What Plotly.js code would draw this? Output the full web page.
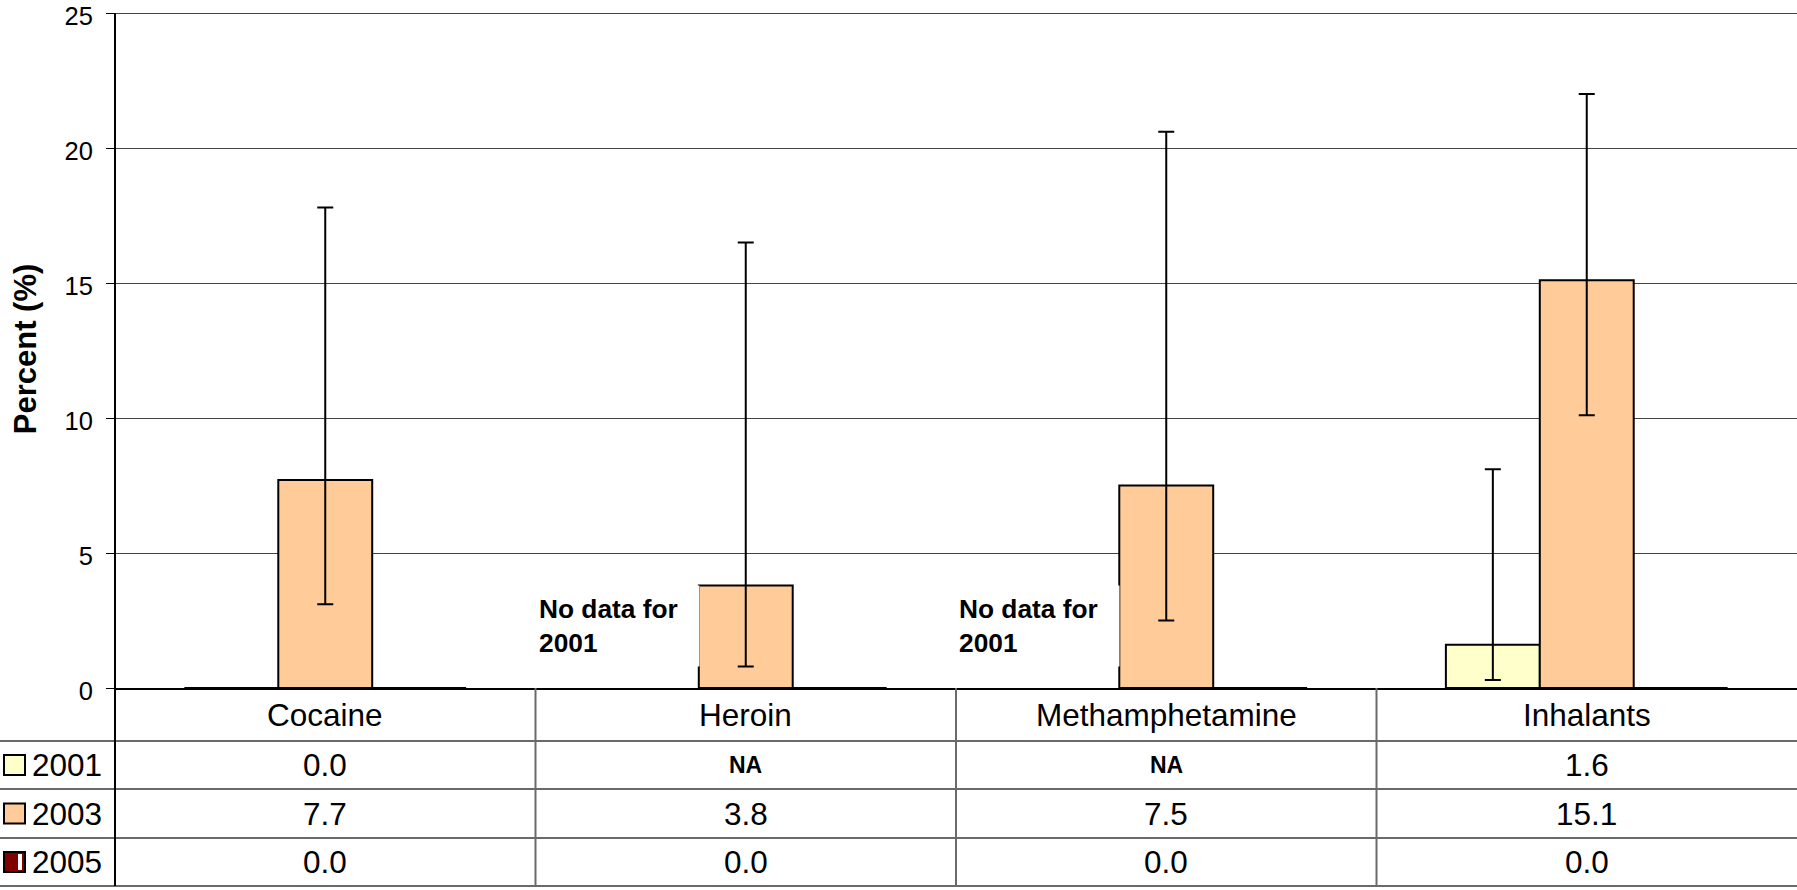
<!DOCTYPE html>
<html>
<head>
<meta charset="utf-8">
<script src="https://cdn.plot.ly/plotly-3.0.1.min.js"></script>
<style>html,body{margin:0;padding:0;background:#fff;}#chart{width:1797px;height:890px;}</style>
</head>
<body>
<div id="chart"></div>
<script>
// ---- data ----
const categories = ['Cocaine', 'Heroin', 'Methamphetamine', 'Inhalants'];
const seriesNames = ['2001', '2003', '2005'];
const values2001 = [0.0, null, null, 1.6];
const values2003 = [7.7, 3.8, 7.5, 15.1];
const values2005 = [0.0, 0.0, 0.0, 0.0];
const ciLow2001  = [0.0, null, null, 0.3];
const ciHigh2001 = [0.0, null, null, 8.1];
const ciLow2003  = [3.1, 0.8, 2.5, 10.1];
const ciHigh2003 = [17.8, 16.5, 20.6, 22.0];
const ciLow2005  = [0.0, 0.0, 0.0, 0.0];
const ciHigh2005 = [0.0, 0.0, 0.0, 0.0];
const noDataNote = 'No data for<br>2001';
const noDataCategories = ['Heroin', 'Methamphetamine'];
const yTicks = [0, 5, 10, 15, 20, 25];

// ---- styling ----
const colors = ['#FFFFCC', '#FFCC99', '#800000'];
const FONT = 'Liberation Sans, Arial, Helvetica, sans-serif';
const W = 1797, H = 890;
const M = {l: 115, r: 0, t: 10, b: 202};
const plotW = W - M.l - M.r, plotH = H - M.t - M.b;
const zeroPx = H - M.b;
const pxPerUnit = 27;
const yMax = plotH / pxPerUnit;
const px2x = px => (px - M.l) / plotW;
const py2y = py => (zeroPx - py) / plotH;
const TABLE_FONT = 31.5;

const allValues = [values2001, values2003, values2005];
const allLow = [ciLow2001, ciLow2003, ciLow2005];
const allHigh = [ciHigh2001, ciHigh2003, ciHigh2005];

const traces = seriesNames.map((name, i) => {
  const v = allValues[i];
  return {
    type: 'bar',
    name: name,
    x: categories,
    y: v,
    marker: {color: colors[i], line: {color: '#000', width: 2}},
    error_y: {
      type: 'data',
      symmetric: false,
      array: v.map((val, j) => val === null ? 0 : allHigh[i][j] - val),
      arrayminus: v.map((val, j) => val === null ? 0 : val - allLow[i][j]),
      color: '#000',
      thickness: 2,
      width: 8
    },
    showlegend: false,
    hoverinfo: 'x+y'
  };
});

const shapes = [];
const annotations = [];
const lineColor = '#6a6a6a';

// table row boundaries (pixel rows)
const rowTops = [688, 741, 789, 838, 886];
for (let r = 1; r < rowTops.length; r++) {
  shapes.push({type: 'line', xref: 'paper', yref: 'paper',
    x0: px2x(0), x1: 1, y0: py2y(rowTops[r]), y1: py2y(rowTops[r]),
    line: {color: lineColor, width: 2}});
}
// vertical separators between categories
for (let c = 1; c < categories.length; c++) {
  const xp = c / categories.length;
  shapes.push({type: 'line', xref: 'paper', yref: 'paper',
    x0: xp, x1: xp, y0: 0, y1: py2y(886),
    line: {color: lineColor, width: 2}});
}
// left border: axis line from the 25 gridline down through the table
shapes.push({type: 'line', xref: 'paper', yref: 'paper',
  x0: 0, x1: 0, y0: py2y(886), y1: py2y(13), line: {color: '#000', width: 2}});

// category labels row
categories.forEach(c => {
  annotations.push({xref: 'x', yref: 'paper', x: c, y: 0, yshift: -(714.5 - zeroPx),
    text: c, showarrow: false, xanchor: 'center', yanchor: 'middle',
    font: {family: FONT, size: TABLE_FONT, color: '#000'}});
});

// value rows
seriesNames.forEach((name, i) => {
  const rowCenter = (rowTops[i + 1] + rowTops[i + 2]) / 2;
  const keyTop = rowCenter - 10, keyBot = rowCenter + 10;
  shapes.push({type: 'rect', xref: 'paper', yref: 'paper',
    x0: px2x(4), x1: px2x(25), y0: py2y(keyBot), y1: py2y(keyTop),
    fillcolor: colors[i], line: {color: '#000', width: 2}});
  if (i === 2) {
    shapes.push({type: 'rect', xref: 'paper', yref: 'paper',
      x0: px2x(18), x1: px2x(22), y0: py2y(keyBot - 2), y1: py2y(keyTop + 2),
      fillcolor: '#fff', line: {width: 0}});
  }
  annotations.push({xref: 'paper', yref: 'paper', x: px2x(30), y: 0, yshift: -(rowCenter - zeroPx),
    text: name, showarrow: false, xanchor: 'left', yanchor: 'middle',
    font: {family: FONT, size: TABLE_FONT, color: '#000'}});
  allValues[i].forEach((v, j) => {
    const isNA = v === null;
    annotations.push({xref: 'x', yref: 'paper', x: categories[j], y: 0, yshift: -(rowCenter - zeroPx),
      text: isNA ? '<b>NA</b>' : v.toFixed(1), showarrow: false, xanchor: 'center', yanchor: 'middle',
      font: {family: FONT, size: isNA ? 23 : TABLE_FONT, color: '#000'}});
  });
});

// "No data" notes
noDataCategories.forEach(c => {
  annotations.push({xref: 'x', yref: 'paper', x: c, y: py2y(626), xanchor: 'right', yanchor: 'middle',
    xshift: -46, text: '<b>' + noDataNote + '</b>', showarrow: false, align: 'left',
    width: 160, height: 80, bgcolor: '#fff', borderpad: 0,
    font: {family: FONT, size: 26.3, color: '#000'}});
});

const layout = {
  width: W, height: H,
  margin: M,
  paper_bgcolor: '#fff', plot_bgcolor: '#fff',
  barmode: 'group', bargap: 0.33, bargroupgap: 0,
  font: {family: FONT, color: '#000'},
  xaxis: {type: 'category', range: [-0.5, 3.5], showticklabels: false, ticks: '',
    showline: true, linecolor: '#000', linewidth: 2, showgrid: false, zeroline: false, fixedrange: true},
  yaxis: {range: [0, yMax], tickvals: yTicks, ticks: 'outside', ticklen: 8, tickwidth: 1, tickcolor: '#000',
    showline: false, showgrid: true, gridcolor: '#444', gridwidth: 1, ticklabeloverflow: 'allow',
    zeroline: false, tickfont: {family: FONT, size: 25.5, color: '#000'}, ticklabelstandoff: 8,
    ticklabelshift: 3,
    title: {text: '<b>Percent (%)</b>', font: {family: FONT, size: 31, color: '#000'}, standoff: 18},
    fixedrange: true},
  shapes: shapes,
  annotations: annotations,
  showlegend: false
};

Plotly.newPlot('chart', traces, layout, {displayModeBar: false, staticPlot: true});
</script>
</body>
</html>
